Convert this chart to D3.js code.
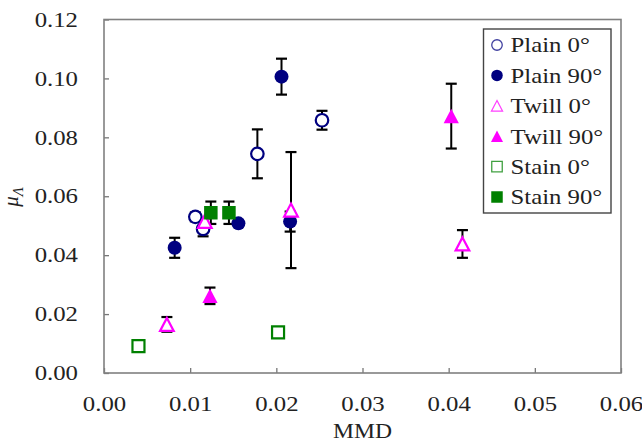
<!DOCTYPE html>
<html>
<head>
<meta charset="utf-8">
<script src="https://cdn.jsdelivr.net/npm/d3@7"></script>
<style>
  body { margin: 0; background: #fff; }
  text { font-family: "Liberation Serif", "Times New Roman", serif; fill: #222; }
</style>
</head>
<body>
<div id="chart"></div>
<script>
// tick labels
const xTicks = [0, 0.01, 0.02, 0.03, 0.04, 0.05, 0.06];
const yTicks = [0, 0.02, 0.04, 0.06, 0.08, 0.10, 0.12];

// series (x = MMD, y = mu, e = error half-width)
const seriesNames = ['Plain 0°', 'Plain 90°', 'Twill 0°', 'Twill 90°', 'Stain 0°', 'Stain 90°'];

const plain0X = [0.0106, 0.0115, 0.0178, 0.0253];
const plain0Y = [0.0530, 0.0489, 0.0744, 0.0858];
const plain0E = [0.0015, 0.0025, 0.0083, 0.0032];

const plain90X = [0.0082, 0.0156, 0.0206, 0.0216];
const plain90Y = [0.0425, 0.0508, 0.1006, 0.0514];
const plain90E = [0.0034, 0.0010, 0.0061, 0.0034];

const twill0X = [0.0073, 0.0117, 0.0217, 0.0416];
const twill0Y = [0.0165, 0.0515, 0.0553, 0.0438];
const twill0E = [0.0025, 0.0010, 0.0197, 0.0047];

const twill90X = [0.0123, 0.0403];
const twill90Y = [0.0262, 0.0872];
const twill90E = [0.0028, 0.0110];

const stain0X = [0.0040, 0.0202];
const stain0Y = [0.0091, 0.0138];
const stain0E = [0, 0];

const stain90X = [0.0124, 0.0145];
const stain90Y = [0.0544, 0.0544];
const stain90E = [0.0038, 0.0038];

const W = 642, H = 444;
const mLeft = 104, mRight = 621, mTop = 19.5, mBottom = 373;
const sx = 1.18; // the picture's text is stretched sideways

const navy = '#000080', magenta = '#ff00ff', green = '#008000';

const series = [
  { xs: plain0X,   ys: plain0Y,   es: plain0E,   shape: 'circle',   color: navy,    filled: false },
  { xs: plain90X,  ys: plain90Y,  es: plain90E,  shape: 'circle',   color: navy,    filled: true },
  { xs: twill0X,   ys: twill0Y,   es: twill0E,   shape: 'triangle', color: magenta, filled: false },
  { xs: twill90X,  ys: twill90Y,  es: twill90E,  shape: 'triangle', color: magenta, filled: true },
  { xs: stain0X,   ys: stain0Y,   es: stain0E,   shape: 'square',   color: green,   filled: false },
  { xs: stain90X,  ys: stain90Y,  es: stain90E,  shape: 'square',   color: green,   filled: true }
];
series.forEach((s, i) => {
  s.name = seriesNames[i];
  s.points = s.xs.map((v, j) => ({ x: v, y: s.ys[j], e: s.es[j] }));
});

const svg = d3.select('#chart').append('svg')
  .attr('width', W).attr('height', H);

const x = d3.scaleLinear().domain([0, 0.06]).range([mLeft, mRight]);
const y = d3.scaleLinear().domain([0, 0.12]).range([mBottom, mTop]);

// axes
const xAxis = svg.append('g')
  .attr('transform', `translate(0,${mBottom})`)
  .call(d3.axisBottom(x).tickValues(xTicks).tickFormat(d3.format('.2f'))
    .tickSize(-5).tickPadding(23));

const yAxis = svg.append('g')
  .attr('transform', `translate(${mLeft},0)`)
  .call(d3.axisLeft(y).tickValues(yTicks).tickFormat(d3.format('.2f'))
    .tickSize(-5).tickPadding(26 / sx));

[xAxis, yAxis].forEach(g => {
  g.select('.domain').remove();
  g.selectAll('.tick line').attr('stroke', '#777').attr('stroke-width', 1.3);
  g.selectAll('.tick text')
    .attr('font-size', 21)
    .attr('font-family', '"Liberation Serif", serif')
    .attr('fill', '#222')
    .attr('transform', `scale(${sx},1)`);
});

// frame
svg.append('rect')
  .attr('x', mLeft).attr('y', mTop)
  .attr('width', mRight - mLeft).attr('height', mBottom - mTop)
  .attr('fill', 'none').attr('stroke', '#808080').attr('stroke-width', 1.6);

// axis titles
const cx = (mLeft + mRight) / 2;
svg.append('text')
  .attr('x', cx).attr('y', 438)
  .attr('text-anchor', 'middle').attr('font-size', 20)
  .attr('transform', `translate(${cx},0) scale(${sx},1) translate(${-cx},0)`)
  .text('MMD');

const yt = svg.append('text')
  .attr('transform', 'translate(18,197) rotate(-90)')
  .attr('text-anchor', 'middle').attr('font-size', 21)
  .attr('font-style', 'italic');
yt.append('tspan').text('μ');
yt.append('tspan').attr('font-size', 15).attr('dy', 5).text('Λ');

// marker paths
function markerPath(shape, size) {
  const r = size / 2;
  if (shape === 'circle') {
    const p = d3.path();
    p.arc(0, 0, r, 0, 2 * Math.PI);
    p.closePath();
    return p.toString();
  }
  if (shape === 'triangle') {
    return `M0,${-r}L${r * 1.05},${r}L${-r * 1.05},${r}Z`;
  }
  return `M${-r},${-r}H${r}V${r}H${-r}Z`;
}

const plot = svg.append('g');

// error bars first
series.forEach(s => {
  const eb = plot.append('g').selectAll('g').data(s.points.filter(d => d.e > 0)).join('g');
  eb.append('line')
    .attr('x1', d => x(d.x)).attr('x2', d => x(d.x))
    .attr('y1', d => y(d.y + d.e)).attr('y2', d => y(d.y - d.e))
    .attr('stroke', '#000').attr('stroke-width', 2);
  [1, -1].forEach(sign => {
    eb.append('line')
      .attr('x1', d => x(d.x) - 5.5).attr('x2', d => x(d.x) + 5.5)
      .attr('y1', d => y(d.y + sign * d.e))
      .attr('y2', d => y(d.y + sign * d.e))
      .attr('stroke', '#000').attr('stroke-width', 2.2);
  });
});

// markers
const plotSize = { circle: 12.5, triangle: 13, square: 12 };
series.forEach(s => {
  plot.append('g').selectAll('path').data(s.points).join('path')
    .attr('transform', d => `translate(${x(d.x)},${y(d.y)})`)
    .attr('d', markerPath(s.shape, s.filled ? plotSize[s.shape] + 1.5 : plotSize[s.shape]))
    .attr('fill', s.filled ? s.color : '#fff')
    .attr('stroke', s.filled ? 'none' : s.color)
    .attr('stroke-width', 2.2);
});

// legend
const lg = svg.append('g');
lg.append('rect')
  .attr('x', 483.5).attr('y', 29).attr('width', 127.5).attr('height', 184)
  .attr('fill', '#fff').attr('stroke', '#444').attr('stroke-width', 1.4);

series.forEach((s, i) => {
  const cy = 45 + i * 30.4;
  lg.append('path')
    .attr('transform', `translate(497,${cy})`)
    .attr('d', markerPath(s.shape, s.filled ? 11.5 : 10.5))
    .attr('fill', s.filled ? s.color : '#fff')
    .attr('stroke', s.filled ? 'none' : s.color)
    .attr('stroke-opacity', 0.75)
    .attr('stroke-width', 1.3);
  lg.append('text')
    .attr('x', 510.5 / sx).attr('y', cy + 7.5)
    .attr('transform', `scale(${sx},1)`)
    .attr('font-size', 21)
    .text(s.name);
});
</script>
</body>
</html>
